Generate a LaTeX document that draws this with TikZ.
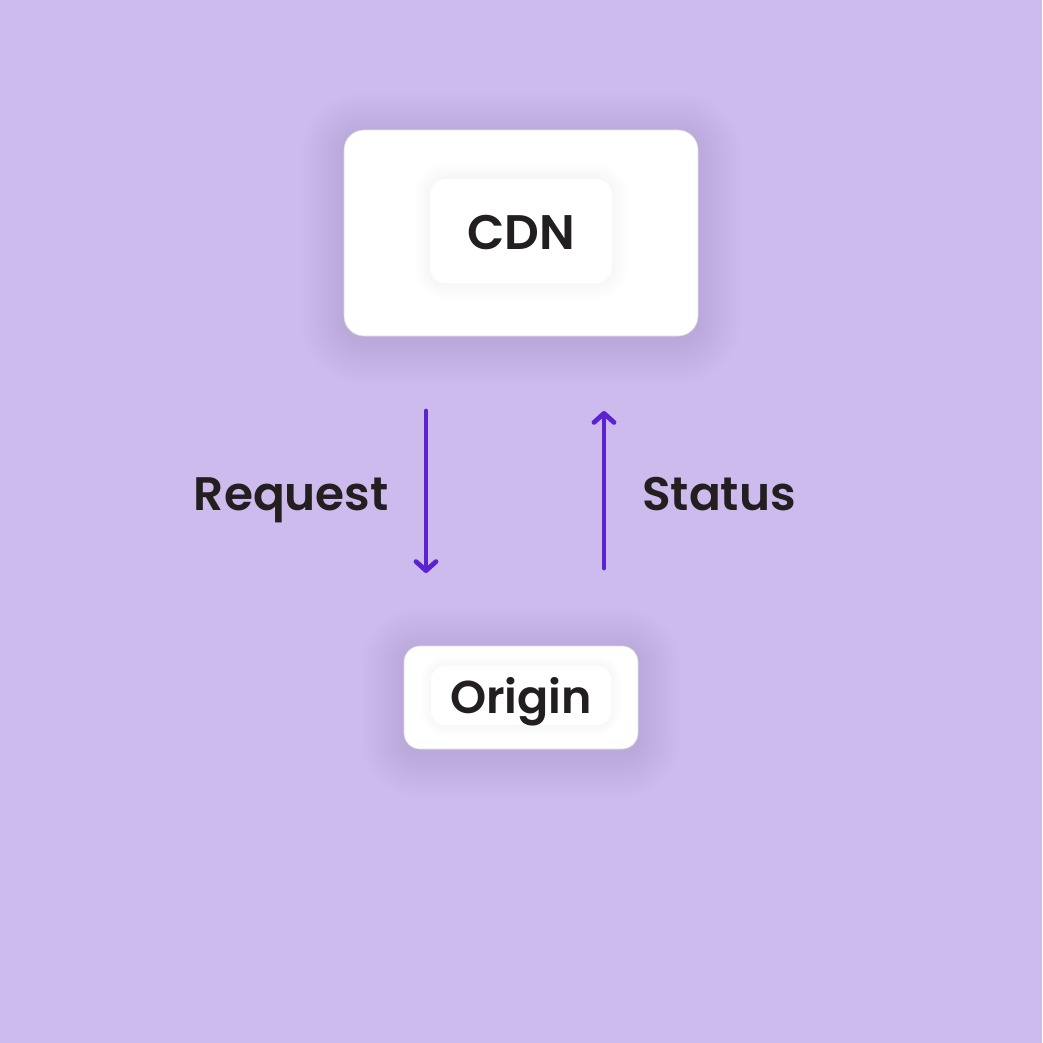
\documentclass[tikz,border=0pt]{standalone}
\usepackage{fontspec}
\setmainfont{Poppins}[UprightFont={* SemiBold}, BoldFont={* Bold}]
\usetikzlibrary{arrows.meta}
\definecolor{bg}{HTML}{CDBBEE}
\definecolor{shadowc}{HTML}{6A4A9A}
\definecolor{arrowc}{HTML}{5B22D2}
\definecolor{txt}{HTML}{231F20}
\tikzset{
  outerbox/.style={fill=white, draw=black!14, line width=0.6pt, rounded corners=20pt},
  innerbox/.style={fill=white, rounded corners=16pt,
    text=txt, font=\fontsize{48.5}{52}\selectfont, inner sep=0pt},
  lbl/.style={text=txt, font=\fontsize{47}{52}\selectfont, inner sep=0pt},
  flow/.style={draw=arrowc, line width=4.8pt, line cap=round,
    -{Straight Barb[length=9pt, width=20pt, line cap=round, line join=round]}}
}
\newcommand{\softshadow}[6]{% x1 y1 x2 y2 radius color/opacity
  \foreach \i [evaluate=\i as \d using 2.4*\i, evaluate=\i as \r using #5+2.4*\i] in {1,...,18}
    \fill[#6, rounded corners=\r pt] (#1-\d,#2-\d+5) rectangle (#3+\d,#4+\d+5);
}
\begin{document}
\begin{tikzpicture}[x=1pt,y=-1pt]
\useasboundingbox (0,0) rectangle (1042,1043);
\fill[bg] (0,0) rectangle (1042,1043);
% shadows
\softshadow{344}{130}{698}{336}{20}{shadowc, fill opacity=0.009}
\softshadow{404}{646}{638}{749}{16}{shadowc, fill opacity=0.009}
% CDN box
\node[outerbox, minimum width=354pt, minimum height=206pt] (cdn) at (521,233) {};
\foreach \i [evaluate=\i as \d using 2*\i, evaluate=\i as \r using 16+2*\i] in {1,...,8}
  \fill[black, fill opacity=0.004, rounded corners=\r pt] (430-\d,179-\d) rectangle (612+\d,283+\d);
\node[innerbox, minimum width=182pt, minimum height=104pt] (cdntxt) at (521,231) {};
\node[text=txt, font=\fontsize{48.5}{52}\selectfont, inner sep=0pt] (cdnlbl) at (521,233) {CDN};
% Origin box
\node[outerbox, rounded corners=16pt, minimum width=234pt, minimum height=103pt] (origin) at (521,697.5) {};
\foreach \i [evaluate=\i as \d using 1.5*\i, evaluate=\i as \r using 14+1.5*\i] in {1,...,7}
  \fill[black, fill opacity=0.004, rounded corners=\r pt] (431-\d,666-\d) rectangle (611+\d,725+\d);
\node[innerbox, rounded corners=14pt, minimum width=180pt, minimum height=59pt] (origintxt) at (521,695.5) {};
\node[text=txt, font=\fontsize{46}{48}\selectfont, inner sep=0pt, anchor=base] (originlbl) at (521,713) {Origin};
% arrows
\coordinate (reqs) at (426,411);
\coordinate (reqe) at (426,573);
\coordinate (stas) at (604,568);
\coordinate (stae) at (604,411);
\draw[flow] (reqs) -- (reqe);
\draw[flow] (stas) -- (stae);
% labels
\node[lbl, anchor=base east] (req) at (389,510) {Request};
\node[lbl, anchor=base west] (sta) at (642,510) {Status};
\end{tikzpicture}
\end{document}
